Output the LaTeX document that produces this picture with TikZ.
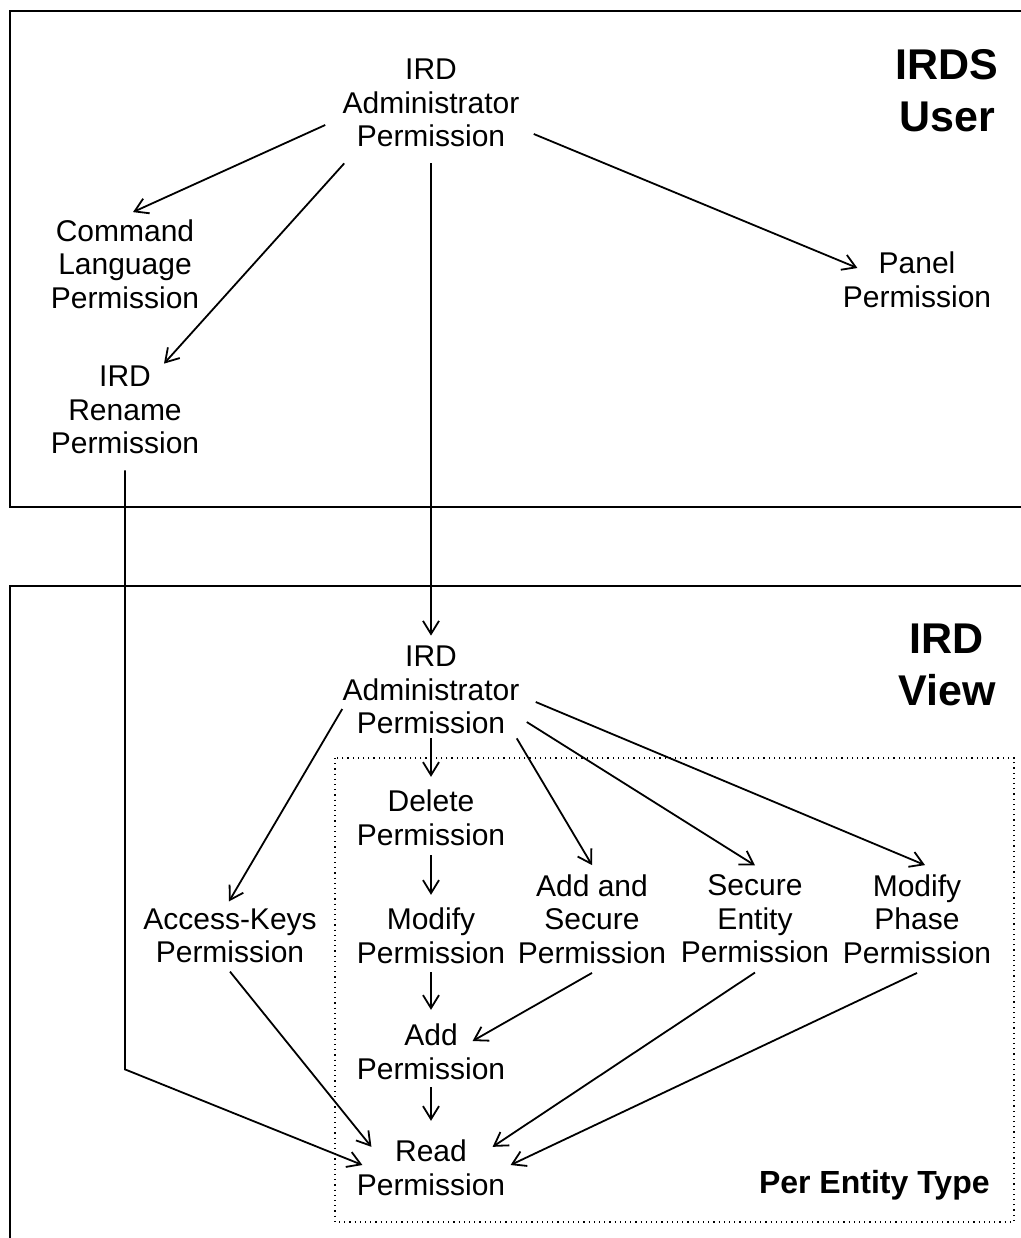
\documentclass[tikz,border=0pt]{standalone}
\usepackage{fontspec}
\setmainfont{Liberation Sans}
\usetikzlibrary{arrows.meta}
\tikzset{perm/.style = {align=center, inner sep=2pt,
                        font=\fontsize{15}{16.75}\selectfont}}
\tikzset{title/.style = {align=center, inner sep=0pt,
                         font=\bfseries\fontsize{21.5}{26}\selectfont}}
\tikzset{arr/.style = {-{Straight Barb[length=6.5pt, width=8pt]}, line width=0.9pt}}
\tikzset{frame/.style = {line width=1.2pt}}

\begin{document}
\begin{tikzpicture}[x=0.5pt, y=-0.5pt]
      \useasboundingbox (0, 0) rectangle (1021, 1238);

      \draw [frame] (1021, 11) -- (10, 11) -- (10, 507) -- (1021, 507);
      \draw [frame] (1021, 586) -- (10, 586) -- (10, 1238);
      \draw [dotted, line width=0.6pt] (335, 758) rectangle (1014, 1222);

      \node [title] (irdsuser) at (947, 91) {IRDS\\User};
      \node [title] (irdview) at (947, 665) {IRD\\View};
      \node [anchor=base east, inner sep=0pt, font=\bfseries\fontsize{16}{19}\selectfont]
        (perentity) at (990, 1193) {Per Entity Type};

      \node [perm] (adminU) at (431, 103) {IRD\\Administrator\\Permission};
      \node [perm] (cmdlang) at (125, 264) {Command\\Language\\Permission};
      \node [perm] (rename) at (125, 410) {IRD\\Rename\\Permission};
      \node [perm] (panel) at (917, 280) {Panel\\Permission};

      \node [perm] (adminV) at (431, 690) {IRD\\Administrator\\Permission};
      \node [perm] (delete) at (431, 818) {Delete\\Permission};
      \node [perm] (modify) at (431, 936) {Modify\\Permission};
      \node [perm] (addsec) at (592, 919) {Add and\\Secure\\Permission};
      \node [perm] (secent) at (755, 919) {Secure\\Entity\\Permission};
      \node [perm] (modphase) at (917, 919) {Modify\\Phase\\Permission};
      \node [perm] (access) at (230, 936) {Access-Keys\\Permission};
      \node [perm] (add) at (431, 1052) {Add\\Permission};
      \node [perm] (read) at (431, 1168) {Read\\Permission};

      \draw [arr] ([shift={(-13, 22)}]adminU.west) -- ([shift={(8, -3)}]cmdlang.north);
      \draw [arr] ([shift={(6, 12)}]adminU.south west) -- ([shift={(39, 2)}]rename.north);
      \draw [arr] ([shift={(0, 12)}]adminU.south) -- ([shift={(0, -6)}]adminV.north);
      \draw [arr] ([shift={(10, 31)}]adminU.east) -- ([shift={(19, -12)}]panel.west);
      \draw [arr] ([shift={(0, 12)}]rename.south) -- ++(0, 599) -- ([shift={(10, -3)}]read.west);

      \draw [arr] ([shift={(4, 19)}]adminV.west) -- ([shift={(-1, -3)}]access.north);
      \draw [arr] (adminV.south) -- ([shift={(0, -9)}]delete.north);
      \draw [arr] ([shift={(-7, 0)}]adminV.south east) -- ([shift={(0, -5)}]addsec.north);
      \draw [arr] ([shift={(3, 32)}]adminV.east) -- ([shift={(0, -5)}]secent.north);
      \draw [arr] ([shift={(12, 12)}]adminV.east) -- ([shift={(8, -5)}]modphase.north);

      \draw [arr] ([shift={(0, 5)}]delete.south) -- ([shift={(0, -9)}]modify.north);
      \draw [arr] ([shift={(0, 4)}]modify.south) -- ([shift={(0, -10)}]add.north);
      \draw [arr] ([shift={(0, 5)}]addsec.south) -- ([shift={(-37, -11)}]add.east);
      \draw [arr] ([shift={(0, 3)}]add.south) -- ([shift={(0, -15)}]read.north);
      \draw [arr] ([shift={(0, 4)}]access.south) -- ([shift={(19, 11)}]read.north west);
      \draw [arr] ([shift={(0, 5)}]secent.south) -- ([shift={(-17, 11)}]read.north east);
      \draw [arr] ([shift={(0, 5)}]modphase.south) -- ([shift={(1, -3)}]read.east);
    \end{tikzpicture}
\end{document}
